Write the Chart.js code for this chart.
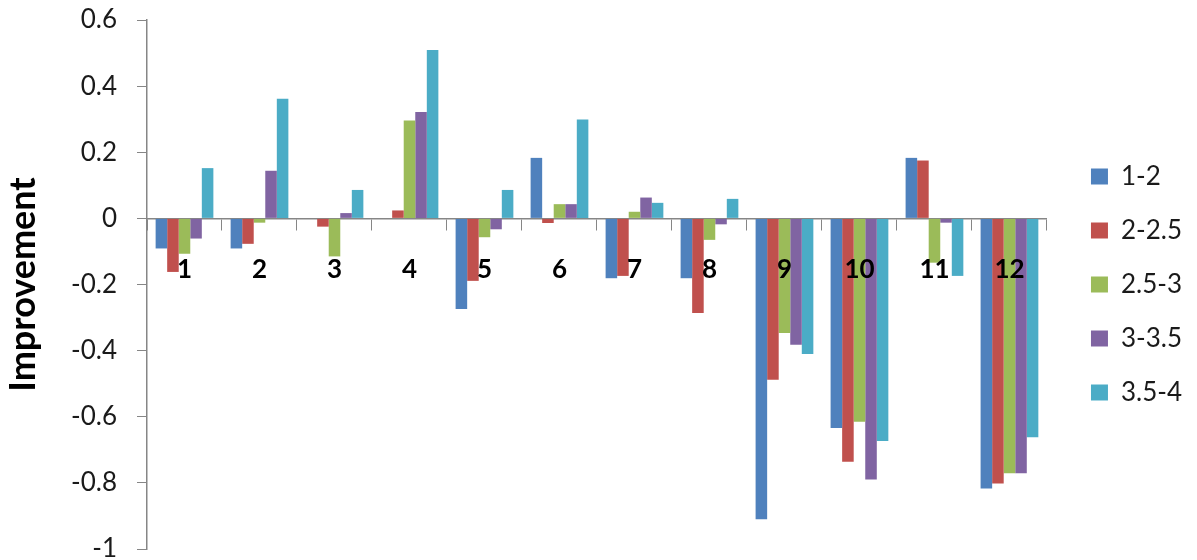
<!DOCTYPE html>
<html>
<head>
<meta charset="utf-8">
<script src="https://cdn.jsdelivr.net/npm/chart.js@4.4.1/dist/chart.umd.min.js"></script>
<style>
  html, body { margin: 0; padding: 0; background: #fff; }
  #wrap { width: 1197px; height: 560px; }
</style>
</head>
<body>
<div id="wrap"><canvas id="barChart"></canvas></div>
<script>
const categories = ["1", "2", "3", "4", "5", "6", "7", "8", "9", "10", "11", "12"];
const seriesNames = ["1-2", "2-2.5", "2.5-3", "3-3.5", "3.5-4"];
const series12 = [-0.091, -0.091, 0, 0, -0.274, 0.183, -0.181, -0.181, -0.910, -0.634, 0.183, -0.817];
const series225 = [-0.162, -0.077, -0.025, 0.024, -0.189, -0.014, -0.174, -0.286, -0.488, -0.736, 0.175, -0.802];
const series253 = [-0.107, -0.013, -0.115, 0.296, -0.057, 0.043, 0.020, -0.065, -0.347, -0.615, -0.134, -0.771];
const series335 = [-0.061, 0.144, 0.016, 0.322, -0.033, 0.043, 0.063, -0.018, -0.382, -0.790, -0.013, -0.771];
const series354 = [0.152, 0.362, 0.086, 0.509, 0.086, 0.299, 0.047, 0.059, -0.410, -0.673, -0.174, -0.662];
const colors = ["#4F81BD", "#C0504D", "#9BBB59", "#8064A2", "#4BACC6"];

const axisGray = "#868686";
const allSeries = [series12, series225, series253, series335, series354];

const ctx = document.getElementById("barChart").getContext("2d");
const chart = new Chart(ctx, {
  type: "bar",
  data: {
    labels: categories,
    datasets: allSeries.map((values, i) => ({
      label: seriesNames[i],
      data: values,
      backgroundColor: colors[i],
      borderWidth: 0,
      categoryPercentage: 0.77,
      barPercentage: 1.0,
    })),
  },
  options: {
    responsive: true,
    maintainAspectRatio: false,
    animation: false,
    layout: {
      padding: { top: 20, bottom: 11, left: 0, right: 5 },
    },
    plugins: {
      legend: {
        display: true,
        position: "right",
        labels: {
          boxWidth: 17,
          boxHeight: 16,
          padding: 28,
          color: "#1a1a1a",
          font: { family: "Lato", size: 26 },
        },
      },
      tooltip: { enabled: false },
    },
    scales: {
      x: {
        position: { y: 0 },
        grid: {
          display: true,
          drawOnChartArea: false,
          drawTicks: true,
          tickLength: 11,
          color: axisGray,
          offset: true,
        },
        border: { display: true, color: axisGray, width: 1.5 },
        ticks: {
          z: 1, // category numbers sit on top of the bars
          color: "#000",
          padding: 25,
          maxRotation: 0,
          font: { family: "Lato", size: 26, weight: "bold" },
        },
      },
      y: {
        min: -1,
        max: 0.6,
        grid: {
          display: true,
          drawOnChartArea: false,
          tickLength: 10,
          color: axisGray,
        },
        border: { display: true, color: axisGray, width: 1.5 },
        ticks: {
          stepSize: 0.2,
          padding: 20,
          color: "#1a1a1a",
          font: { family: "Lato", size: 26 },
          callback: (v) => String(+v.toFixed(1)),
        },
        title: {
          display: true,
          text: "Improvement",
          color: "#000",
          padding: { top: 2, bottom: 0 },
          font: { family: "Lato", size: 36, weight: "bold" },
        },
        afterFit: (scale) => {
          scale.width = 147;
          scale.paddingTop = 0;
          scale.paddingBottom = 0;
        },
      },
      gap: {
        type: "linear",
        position: "right",
        display: true,
        grid: { display: false },
        border: { display: false },
        ticks: { display: false },
        afterFit: (scale) => {
          scale.width = 16;
        },
      },
    },
  },
});
</script>
</body>
</html>
